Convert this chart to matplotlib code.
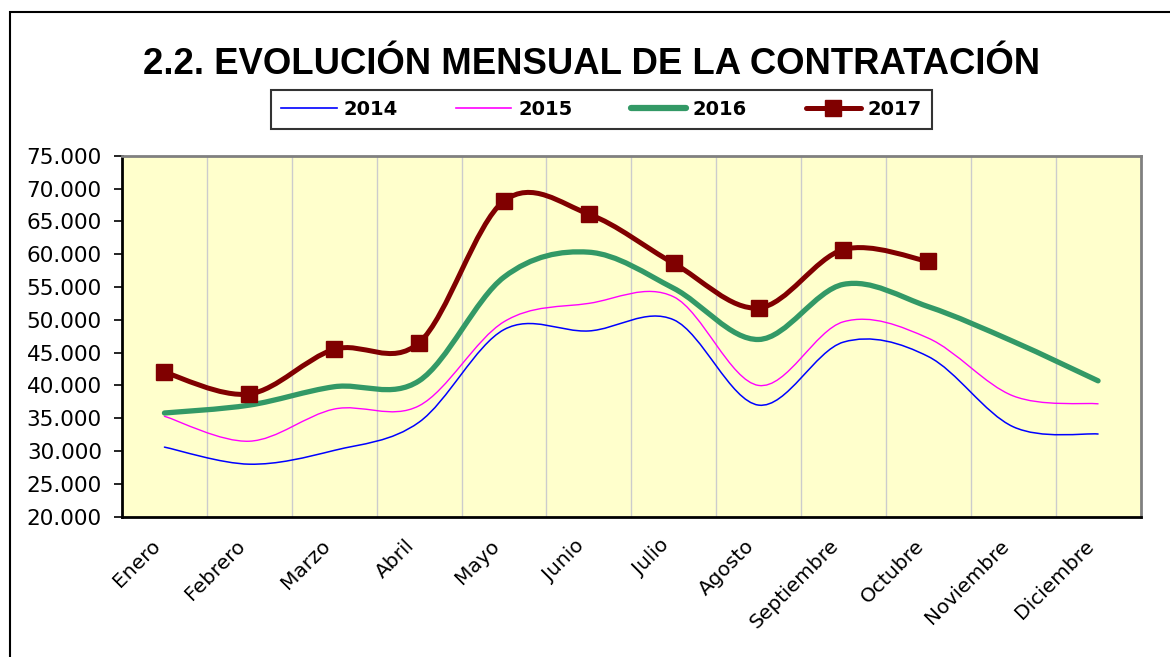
import numpy as np
import matplotlib
matplotlib.use("Agg")
import matplotlib.pyplot as plt
import matplotlib.transforms as mtransforms
from matplotlib.path import Path
from matplotlib.patches import PathPatch, Rectangle
from matplotlib.lines import Line2D
from matplotlib.ticker import FuncFormatter

# Data
months = ["Enero", "Febrero", "Marzo", "Abril", "Mayo", "Junio", "Julio",
          "Agosto", "Septiembre", "Octubre", "Noviembre", "Diciembre"]
y2014 = [30600, 28000, 30100, 34400, 48500, 48300, 50000, 37000, 46600, 44400, 33700, 32600]
y2015 = [35300, 31500, 36400, 36900, 49700, 52500, 53500, 40000, 49700, 47200, 38400, 37200]
y2016 = [35800, 37000, 39800, 40700, 56500, 60300, 54800, 47000, 55400, 52000, 46700, 40700]
y2017 = [42000, 38700, 45500, 46500, 68100, 66100, 58600, 51800, 60700, 58900]

W, H = 1170, 657


def smooth_path(ys):
    """Excel-like smoothed line: Catmull-Rom segments as cubic Bezier curves."""
    x = np.arange(len(ys), dtype=float)
    y = np.asarray(ys, dtype=float)
    n = len(y)
    mx = np.empty(n)
    my = np.empty(n)
    for i in range(n):
        a = max(i - 1, 0)
        b = min(i + 1, n - 1)
        mx[i] = (x[b] - x[a]) / 2
        my[i] = (y[b] - y[a]) / 2
    verts = [(x[0], y[0])]
    codes = [Path.MOVETO]
    for i in range(n - 1):
        verts += [(x[i] + mx[i] / 3, y[i] + my[i] / 3),
                  (x[i + 1] - mx[i + 1] / 3, y[i + 1] - my[i + 1] / 3),
                  (x[i + 1], y[i + 1])]
        codes += [Path.CURVE4] * 3
    return Path(verts, codes)


fig = plt.figure(figsize=(W / 100, H / 100), dpi=100)

# outer frame (open on the right / bottom like the reference crop)
fig.patches.append(Rectangle((10 / W, -0.05), 1.1, 1 - 12 / H + 0.05,
                             transform=fig.transFigure, fill=False,
                             edgecolor="black", linewidth=1.5))

ax = fig.add_axes([122 / W, 1 - 516.7 / H, 1018.5 / W, 361 / H])
ax.set_facecolor("#FFFFCC")

series = [
    (y2014, "#0000FF", 1.1, "2014"),
    (y2015, "#FF00FF", 1.0, "2015"),
    (y2016, "#339966", 3.8, "2016"),
    (y2017, "#800000", 3.6, "2017"),
]
for ys, col, lw, lab in series:
    ax.add_patch(PathPatch(smooth_path(ys), fill=False, edgecolor=col,
                           linewidth=lw, capstyle="round", joinstyle="round",
                           zorder=3))

ax.plot(range(len(y2017)), y2017, linestyle="none", marker="s",
        markersize=11.5, color="#800000", zorder=4)

ax.set_xlim(-0.5, 11.5)
ax.set_ylim(20000, 75000)
ax.set_yticks(np.arange(20000, 75001, 5000))
ax.yaxis.set_major_formatter(FuncFormatter(lambda v, p: f"{int(v):,}".replace(",", ".")))
ax.tick_params(axis="y", direction="out", length=6, width=1.2, pad=8.5,
               labelsize=15.5, colors="black")

ax.set_xticks(range(12))
ax.set_xticklabels(months, rotation=45, ha="right", va="top",
                   rotation_mode="anchor", fontsize=14.5)
ax.tick_params(axis="x", length=0, pad=14)
shift = mtransforms.ScaledTranslation(-14 / 100, 0, fig.dpi_scale_trans)
for lbl in ax.get_xticklabels():
    lbl.set_transform(lbl.get_transform() + shift)

# vertical grid at category boundaries
for b in np.arange(0.5, 11.5, 1.0):
    ax.axvline(b, color="#CCCCCC", linewidth=1.0, zorder=1)

for s in ["left", "bottom"]:
    ax.spines[s].set_color("black")
    ax.spines[s].set_linewidth(2)
for s in ["top", "right"]:
    ax.spines[s].set_color("#808080")
    ax.spines[s].set_linewidth(2)

fig.text(591.5 / W, 1 - 64 / H, "2.2. EVOLUCIÓN MENSUAL DE LA CONTRATACIÓN",
         ha="center", va="center", fontsize=26.3, fontweight="bold",
         family="Liberation Sans")

handles = [
    Line2D([], [], color="#0000FF", lw=1.2),
    Line2D([], [], color="#FF00FF", lw=1.2),
    Line2D([], [], color="#339966", lw=4.5, solid_capstyle="round"),
    Line2D([], [], color="#800000", lw=3.6, marker="s", markersize=11,
           solid_capstyle="round"),
]
leg = fig.legend(handles, ["2014", "2015", "2016", "2017"], ncol=4,
                 loc="center", bbox_to_anchor=(601.5 / W, 1 - 109.5 / H),
                 prop={"family": "DejaVu Sans", "weight": "bold", "size": 14},
                 frameon=True, fancybox=False, handlelength=2.85,
                 handletextpad=0.35, columnspacing=3.0, borderpad=0.5)
leg.get_frame().set_edgecolor("black")
leg.get_frame().set_linewidth(1.5)

fig.savefig("out.png", dpi=100)
